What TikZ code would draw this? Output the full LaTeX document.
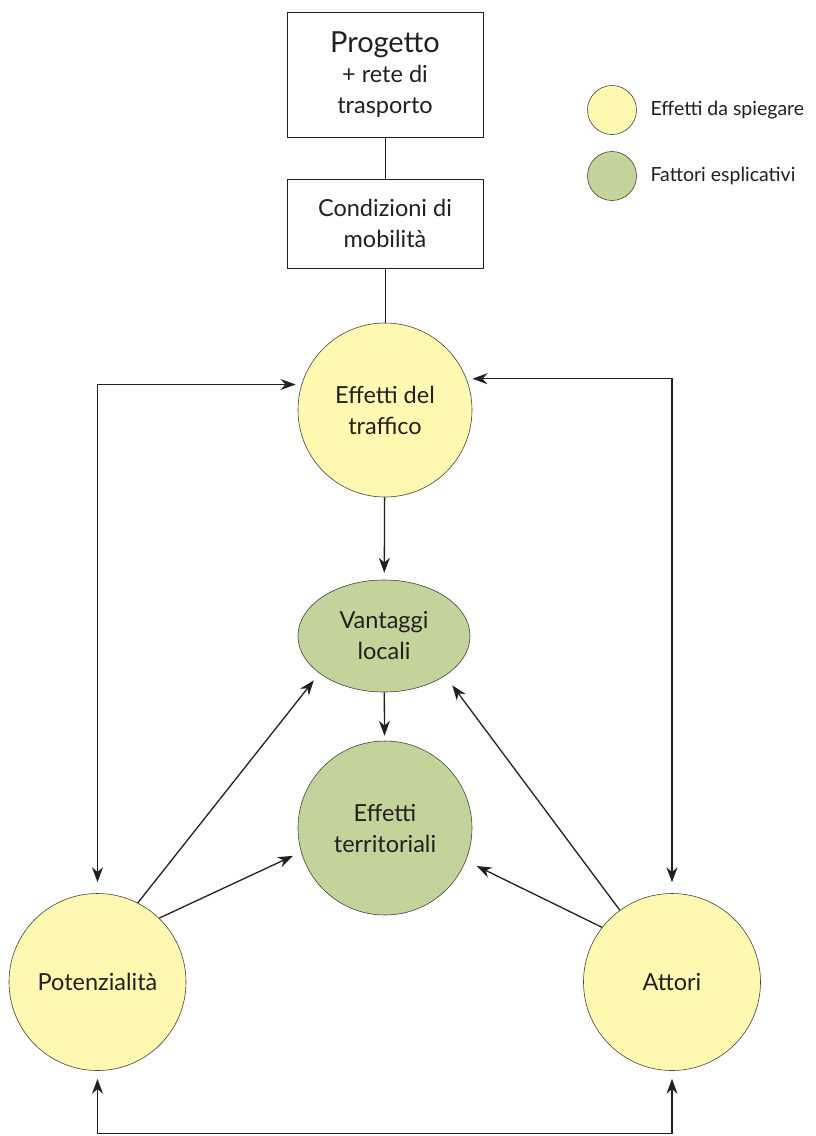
\documentclass[tikz,border=0pt]{standalone}
\usepackage{fontspec}
\setmainfont{Lato}
\usetikzlibrary{arrows.meta,shapes.geometric}
\definecolor{yel}{HTML}{FFF8B0}
\definecolor{grn}{HTML}{C2D49A}
\definecolor{ink}{HTML}{231F20}
\begin{document}
\begin{tikzpicture}[x=1pt,y=-1pt,
  txt/.style={font=\fontsize{23.5}{31}\selectfont, text=ink, align=center},
  box/.style={txt, draw=ink, line width=0.8pt, minimum width=196pt, inner sep=0pt},
  yc/.style={txt, circle, draw=ink!85, line width=0.6pt, fill=yel, inner sep=0pt},
  gc/.style={txt, circle, draw=ink!85, line width=0.6pt, fill=grn, inner sep=0pt},
  ge/.style={txt, ellipse, draw=ink!85, line width=0.6pt, fill=grn, inner sep=0pt},
  ln/.style={draw=ink, line width=1.3pt},
  thin/.style={draw=ink, line width=0.9pt},
  arr/.style={ln, -{Stealth[length=15pt,width=11pt]}, shorten >=6pt},
  dbl/.style={ln, {Stealth[length=15pt,width=11pt]}-{Stealth[length=15pt,width=11pt]}},
  leg/.style={anchor=west, font=\fontsize{19.5}{22}\selectfont, text=ink}
]
\useasboundingbox (0,0) rectangle (815,1136);

\node[box, minimum height=125pt] (B1) at (385,74.5)
  {{\fontsize{29}{32}\selectfont Progetto}\\[-1pt]+ rete di\\trasporto};
\node[box, minimum height=89pt] (B2) at (385,223.5) {Condizioni di\\mobilità};

\node[yc, minimum size=174pt] (E) at (385,410) {Effetti del\\traffico};
\node[ge, minimum width=172pt, minimum height=112pt] (V) at (384,636) {Vantaggi\\locali};
\node[gc, minimum size=174pt] (T) at (385,828) {Effetti\\territoriali};
\node[yc, minimum size=177pt] (P) at (97.5,982) {Potenzialità};
\node[yc, minimum size=177pt] (A) at (672,982) {Attori};

\node[yc, minimum size=49pt] (L1) at (612,110) {};
\node[leg] (L1t) at (647,110) {Effetti da spiegare};
\node[gc, minimum size=49pt] (L2) at (612,176) {};
\node[leg] (L2t) at (647,176) {Fattori esplicativi};

\draw[thin] (B1) -- (B2);
\draw[thin] (B2) -- (E);
\draw[arr, shorten >=7pt] (E) -- (V);
\draw[arr, shorten >=5pt] (V) -- (T);

\draw[dbl, shorten <=6pt, shorten >=11pt] (E.163) -| (P.north);
\draw[dbl, shorten <=6pt, shorten >=11pt] (E.21.6) -| (A.north);
\draw[dbl, shorten <=8pt, shorten >=8pt] (P.south) -- ++(0,63) -| (A.south);

\draw[arr, shorten >=9pt] (P.63) -- (V.210);
\draw[arr, shorten >=9pt] (P.46) -- (T.196);
\draw[arr, shorten >=12pt] (A.126) -- (V.327);
\draw[arr, shorten >=12pt] (A.142) -- (T.338);
\end{tikzpicture}
\end{document}
